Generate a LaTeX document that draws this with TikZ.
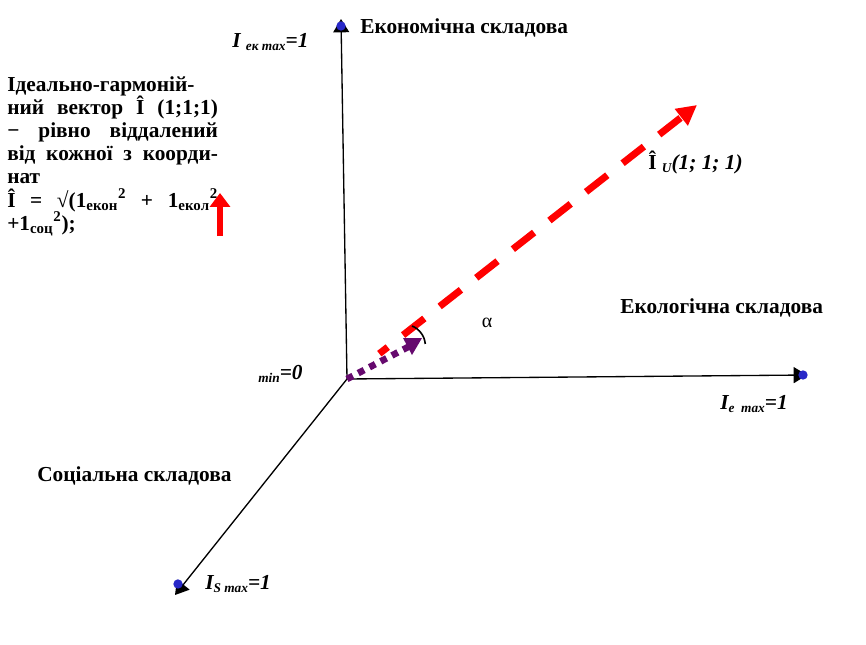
\documentclass[tikz,border=0pt]{standalone}
\usepackage{fontspec}
\setmainfont{Liberation Serif}
\usetikzlibrary{arrows.meta}
\definecolor{dotblue}{RGB}{40,40,200}
\definecolor{vecpurple}{RGB}{102,10,110}
\newcommand{\lowsub}[1]{\raisebox{-2pt}{\fontsize{10}{10}\selectfont #1}}
\begin{document}
\begin{tikzpicture}[x=0.75pt, y=-0.75pt,
    axis/.style={line width=1pt, -{Triangle[length=10pt,width=12pt]}},
    dot/.style={circle, fill=dotblue, inner sep=0pt, minimum size=7pt},
    lbl/.style={font=\bfseries\fontsize{16}{17.4}\selectfont, inner sep=0pt, anchor=west},
    ilbl/.style={font=\bfseries\itshape\fontsize{16}{17.4}\selectfont, inner sep=0pt, anchor=west}]
\useasboundingbox (0,0) rectangle (866,645);

% axes
\coordinate (O) at (347,379);
\coordinate (ek) at (341,19);
\coordinate (e) at (807,375);
\coordinate (s) at (175,595);
\draw[axis] (O) -- (ek);
\draw[axis] (O) -- (e);
\draw[axis] (O) -- (s);
\node[dot] (ekdot) at (341,26) {};
\node[dot] (edot) at (803,375) {};
\node[dot] (sdot) at (178,584) {};

% ideal vector and its projection
\coordinate (u0) at (379.3,353.7);
\coordinate (u) at (697,105);
\draw[red, line width=5.25pt, dash pattern=on 20.25pt off 14.6pt, dash phase=12.2pt,
      -{Triangle[length=15pt,width=15pt]}] (u0) -- (u);
\coordinate (p) at (410,346);
\draw[vecpurple, line width=5pt, dash pattern=on 5pt off 4.5pt] (O) -- (p);
\fill[vecpurple] (403,338) -- (422,338) -- (412,355) -- cycle;
\coordinate (a1) at (412,326);
\draw[line width=1.2pt] (a1) arc[start angle=68, end angle=5, radius=16pt];
\node[font=\fontsize{15}{15}\selectfont] (alpha) at (487,323) {α};

% labels
\node[lbl] (econ) at (360,28) {Економічна складова};
\node[lbl] (ecol) at (620,308) {Екологічна складова};
\node[lbl] (soc) at (37,476) {Соціальна складова};
\node[ilbl] (iek) at (232,42) {I \lowsub{ек max}=1};
\node[ilbl] (ie) at (720,404) {I\lowsub{e\enspace max}=1};
\node[ilbl] (is) at (205,584) {I\lowsub{S max}=1};
\node[ilbl] (min) at (258,374) {\lowsub{min}=0};
\node[lbl] (iu) at (648,163) {Î \lowsub{\itshape U}\textit{(1; 1; 1)}};

% note on the left
\node[lbl, anchor=north west, text width=158pt, align=justify] (ideal) at (7,76)
  {Ідеально-гармоній-\linebreak ний вектор Î (1;1;1)\linebreak − рівно віддалений\linebreak
   від кожної з коорди-\linebreak нат\\
   Î = √(1\textsubscript{екон}\textsuperscript{2} + 1\textsubscript{екол}\textsuperscript{2}\linebreak
   +1\textsubscript{соц}\textsuperscript{2});};
\coordinate (r1) at (220,236);
\coordinate (r2) at (220,193);
\draw[red, line width=5pt, -{Triangle[length=10.5pt,width=15pt]}] (r1) -- (r2);
\end{tikzpicture}
\end{document}
